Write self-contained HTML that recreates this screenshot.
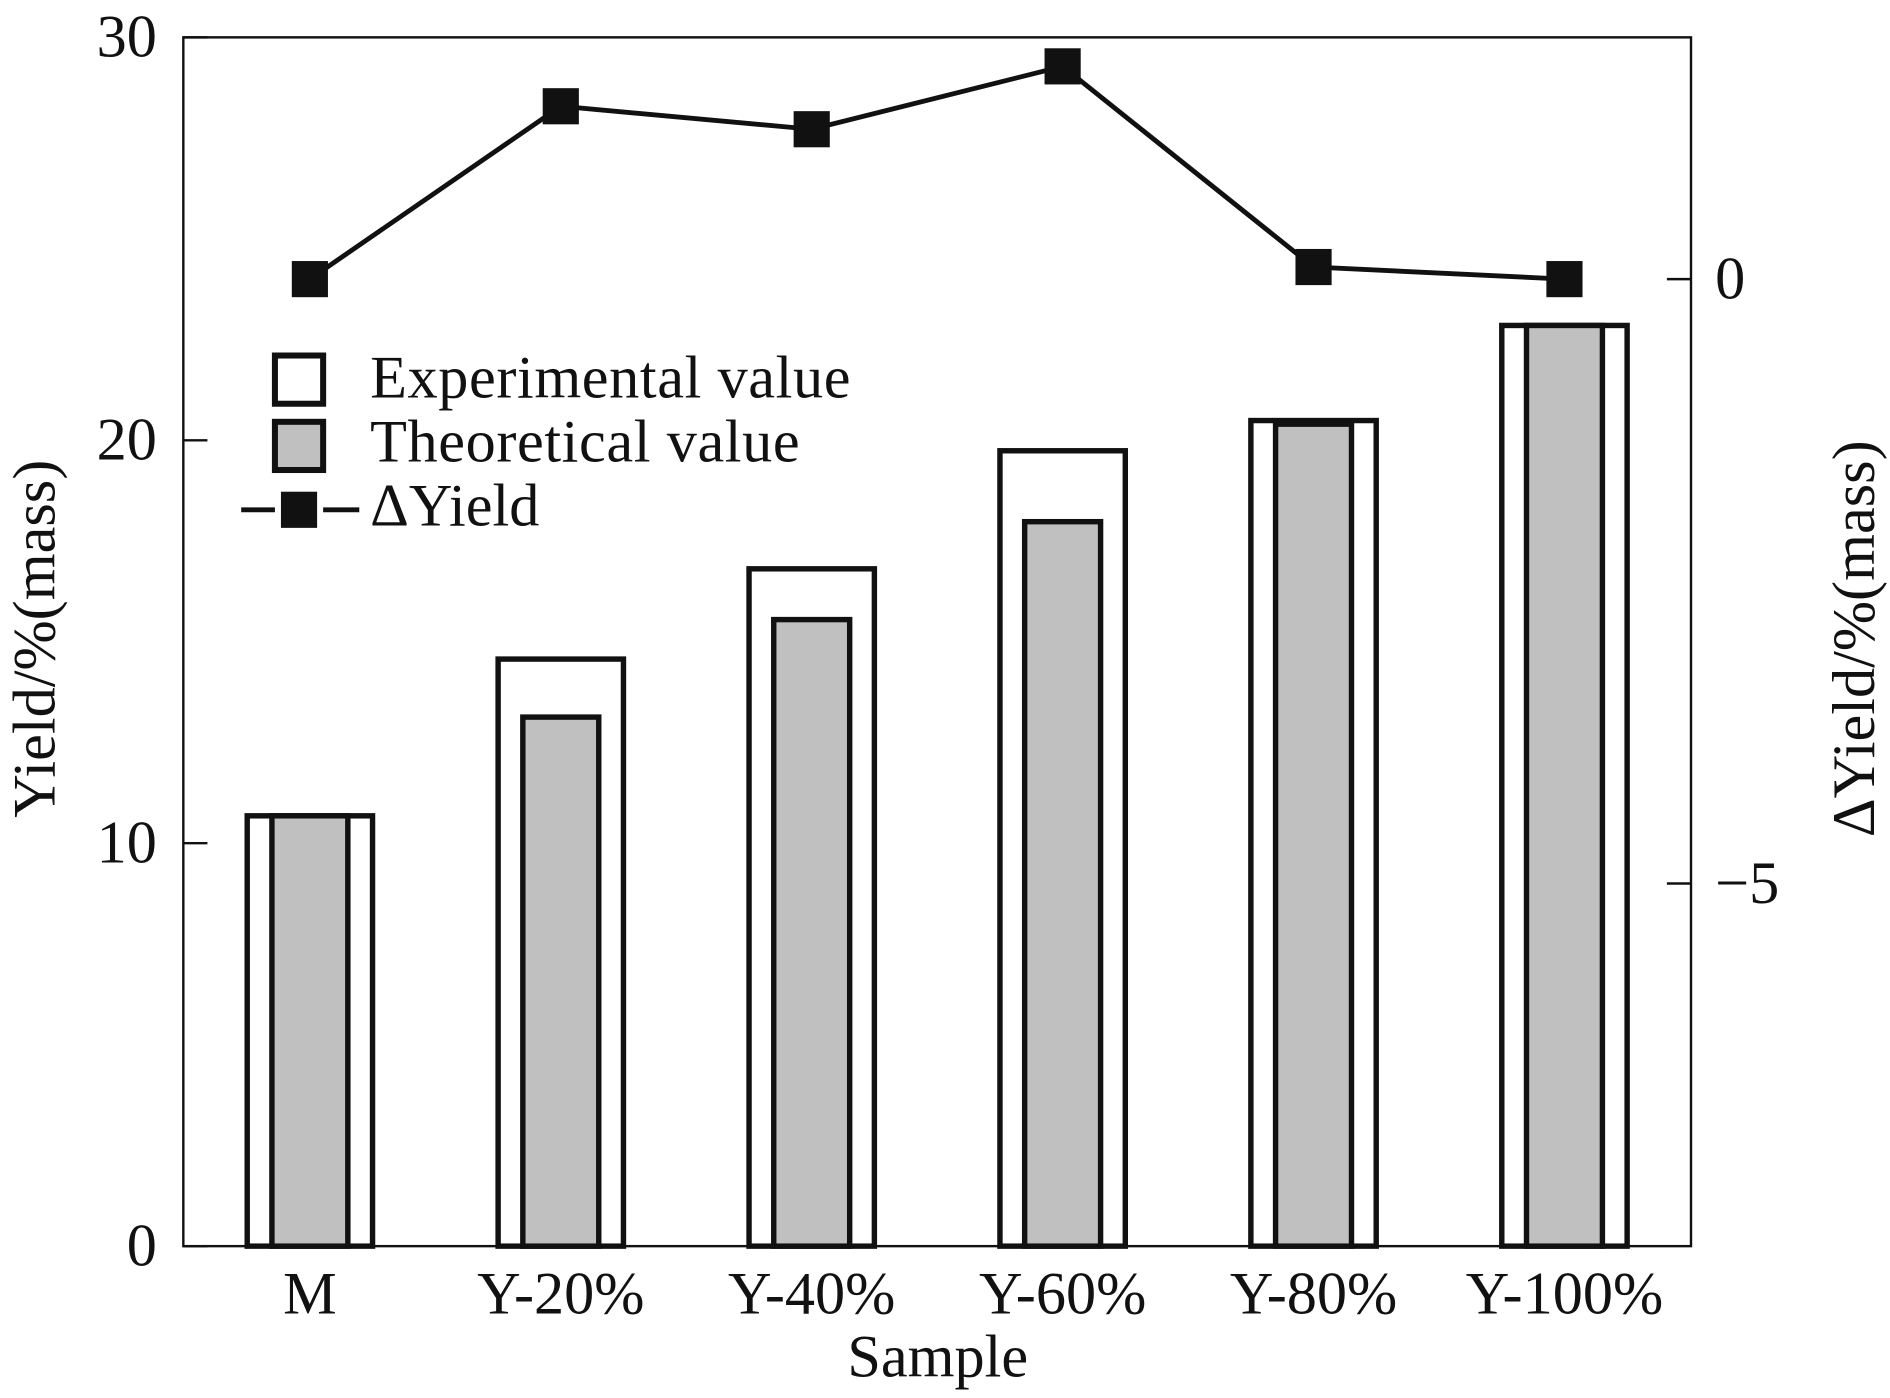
<!DOCTYPE html>
<html><head><meta charset="utf-8"><style>
html,body{margin:0;padding:0;background:#fff}
svg{display:block}
text{font-family:"Liberation Serif",serif;fill:#111}
</style></head><body>
<svg id="chart" width="1890" height="1398" viewBox="0 0 1568 1160" xmlns="http://www.w3.org/2000/svg">
<g id="bars"></g>
<g id="line"></g>
<rect x="152" y="31" width="1251" height="1003" fill="none" stroke="#111" stroke-width="2"/>
<g id="axes"></g>
<g>
<rect x="228" y="295" width="40" height="40" fill="#fff" stroke="#111" stroke-width="5"/>
<text x="307" y="330" font-size="50" letter-spacing="0.5">Experimental value</text>
<rect x="228" y="350" width="40" height="40" fill="#c0c0c0" stroke="#111" stroke-width="5"/>
<text x="307" y="383" font-size="50" letter-spacing="0.5">Theoretical value</text>
<line x1="200" y1="423" x2="228" y2="423" stroke="#111" stroke-width="4"/>
<line x1="268" y1="423" x2="298" y2="423" stroke="#111" stroke-width="4"/>
<rect x="233" y="408" width="30" height="30" fill="#111"/>
<text x="307" y="436" font-size="50">ΔYield</text>
</g>
<text x="778" y="1142" font-size="50" text-anchor="middle">Sample</text>
<text x="0" y="0" font-size="50" text-anchor="middle" transform="translate(45,530) rotate(-90)">Yield/%(mass)</text>
<text x="0" y="0" font-size="50" text-anchor="middle" transform="translate(1555,530) rotate(-90)">ΔYield/%(mass)</text>
</svg>
<script>
const categories=["M","Y-20%","Y-40%","Y-60%","Y-80%","Y-100%"];
const experimental=[10.68,14.57,16.81,19.74,20.49,22.85];
const theoretical=[10.68,13.13,15.55,17.98,20.40,22.85];
const deltaYield=[0,1.43,1.24,1.76,0.10,0];
const leftTicks=[0,10,20,30];
const rightTicks=[0,-5];
const NS="http://www.w3.org/2000/svg";
const L=152,R=1403,T=31,B=1034;
function yL(v){return B-(v-0)/(30-0)*(B-T);}
function yR(v){return B-(v-(-8))/(2-(-8))*(B-T);}
function xC(i){return 257+i*208.2;}
function mk(tag,attrs,parent){const e=document.createElementNS(NS,tag);for(const k in attrs)e.setAttribute(k,attrs[k]);parent.appendChild(e);return e;}
const bars=document.getElementById('bars'),line=document.getElementById('line'),axes=document.getElementById('axes');
categories.forEach((c,i)=>{
  const x=xC(i);
  const e=mk('rect',{x:x-52,y:yL(experimental[i]),width:104,height:B-yL(experimental[i]),fill:'#fff',stroke:'#111','stroke-width':4.5},bars);
  
  
  const t=mk('rect',{x:x-31.5,y:yL(theoretical[i]),width:63,height:B-yL(theoretical[i]),fill:'#c0c0c0',stroke:'#111','stroke-width':4.5},bars);
  
  
  const lb=mk('text',{x:x,y:1090,'font-size':50,'text-anchor':'middle'},axes);
  lb.textContent=c;
  
  
});
const pts=deltaYield.map((v,i)=>xC(i)+','+yR(v)).join(' ');
const pl=mk('polyline',{points:pts,fill:'none',stroke:'#111','stroke-width':4},line);


deltaYield.forEach((v,i)=>{
  const m=mk('rect',{x:xC(i)-15,y:yR(v)-15,width:30,height:30,fill:'#111'},line);
  
  
});
leftTicks.forEach(v=>{
  const tk=mk('line',{x1:L,y1:yL(v),x2:L+20,y2:yL(v),stroke:'#111','stroke-width':2},axes);
  
  
  const t=mk('text',{x:130,y:yL(v)+16,'font-size':50,'text-anchor':'end'},axes);
  t.textContent=v;
  
  
});
rightTicks.forEach(v=>{
  const tk=mk('line',{x1:R-20,y1:yR(v),x2:R,y2:yR(v),stroke:'#111','stroke-width':2},axes);
  
  
  const t=mk('text',{x:1423,y:yR(v)+16,'font-size':50},axes);
  t.textContent=v<0?'\u2212'+Math.abs(v):String(v);
  
  
});
</script>
</body></html>
